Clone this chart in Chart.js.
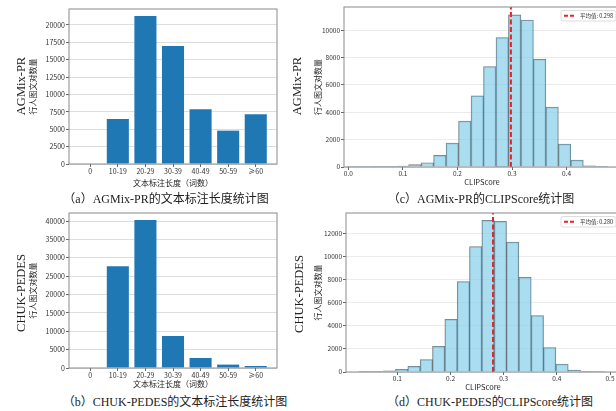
<!DOCTYPE html>
<html lang="zh">
<head>
<meta charset="UTF-8" />
<title>文本标注长度与CLIPScore统计</title>
<script src="https://cdn.jsdelivr.net/npm/chart.js"></script>
<style>
  html, body { margin: 0; padding: 0; background: #fff; overflow: hidden; }
  body { width: 616px; height: 411px; position: relative; color: #222;
         font-family: "Liberation Serif", "Noto Sans CJK SC", serif; }
  .panel { position: absolute; }
  .lbl { position: absolute; white-space: nowrap; line-height: 1; transform: translate(-50%, -50%); }
  .side { font-size: 12.5px; transform: translate(-50%, -50%) rotate(-90deg); }
  .cap { font-size: 12px; }
</style>
</head>
<body>
  <div class="panel" style="left:0;top:0;width:290px;height:188px"><canvas id="chart-a"></canvas></div>
  <div class="panel" style="left:0;top:200px;width:290px;height:190px"><canvas id="chart-b"></canvas></div>
  <div class="panel" style="left:300px;top:0;width:324px;height:188px"><canvas id="chart-c"></canvas></div>
  <div class="panel" style="left:300px;top:200px;width:324px;height:192px"><canvas id="chart-d"></canvas></div>

  <div class="lbl side" style="left:21px;top:86px">AGMix-PR</div>
  <div class="lbl side" style="left:297px;top:86px">AGMix-PR</div>
  <div class="lbl side" style="left:21px;top:293px">CHUK-PEDES</div>
  <div class="lbl side" style="left:299px;top:294px">CHUK-PEDES</div>

  <div class="lbl cap" style="left:166px;top:199px">（a）AGMix-PR的文本标注长度统计图</div>
  <div class="lbl cap" style="left:481px;top:199px">（c）AGMix-PR的CLIPScore统计图</div>
  <div class="lbl cap" style="left:175px;top:402px">（b）CHUK-PEDES的文本标注长度统计图</div>
  <div class="lbl cap" style="left:490px;top:402px">（d）CHUK-PEDES的CLIPScore统计图</div>

<script>
  // text length buckets (words)
  const lengthCats = ["0", "10-19", "20-29", "30-39", "40-49", "50-59", "≥60"];
  const agmixLengths = [0, 6470, 21290, 16980, 7860, 4800, 7140];
  const chukLengths = [0, 27670, 40270, 8710, 2720, 925, 540];
  const agmixLenTicks = [0, 2500, 5000, 7500, 10000, 12500, 15000, 17500, 20000];
  const chukLenTicks = [0, 5000, 10000, 15000, 20000, 25000, 30000, 35000, 40000];

  // CLIPScore histograms (bin centres + counts)
  const agmixBinCenters = [0.0075, 0.0304, 0.0533, 0.0761, 0.0990, 0.1219, 0.1448, 0.1677, 0.1905, 0.2134, 0.2363,
                           0.2592, 0.2821, 0.3049, 0.3278, 0.3507, 0.3736, 0.3965, 0.4193, 0.4422, 0.4651];
  const agmixClipCounts = [3, 5, 10, 20, 60, 170, 314, 850, 1750, 3360, 5200,
                           7340, 9460, 11120, 10750, 7880, 4380, 1680, 510, 80, 25];
  const agmixClipMean = 0.298;
  const agmixClipXTicks = [0.0, 0.1, 0.2, 0.3, 0.4];
  const agmixClipYTicks = [0, 2000, 4000, 6000, 8000, 10000];

  const chukBinCenters = [0.0386, 0.0618, 0.0850, 0.1082, 0.1314, 0.1546, 0.1778, 0.2010, 0.2242, 0.2474,
                          0.2706, 0.2938, 0.3170, 0.3402, 0.3634, 0.3866, 0.4098, 0.4330, 0.4562, 0.4794];
  const chukClipCounts = [8, 20, 100, 230, 490, 1070, 2220, 4560, 7820, 10860,
                          13120, 13040, 11250, 8190, 4880, 2110, 690, 175, 20, 5];
  const chukClipMean = 0.280;
  const chukClipXTicks = [0.1, 0.2, 0.3, 0.4, 0.5];
  const chukClipYTicks = [0, 2000, 4000, 6000, 8000, 10000, 12000];

  Chart.defaults.font.family = "'Noto Sans CJK SC', 'DejaVu Sans', sans-serif";
  Chart.defaults.color = '#333';
  Chart.defaults.animation = false;

  // box round the plot area, like matplotlib spines
  const framePlugin = {
    id: 'frame',
    afterDraw(chart) {
      const a = chart.chartArea, ctx = chart.ctx;
      ctx.save();
      ctx.strokeStyle = '#8a8a8a';
      ctx.lineWidth = 1;
      ctx.strokeRect(a.left, a.top, a.right - a.left, a.bottom - a.top);
      ctx.restore();
    }
  };

  // small legend in the top right corner for the mean line
  const meanLegend = {
    id: 'meanLegend',
    afterDraw(chart) {
      const ds = chart.data.datasets[0];
      const a = chart.chartArea, ctx = chart.ctx;
      ctx.save();
      ctx.font = "5.5px 'Noto Sans CJK SC'";
      const tw = ctx.measureText(ds.label).width;
      const w = tw + 22, h = 10.5;
      const x = a.right - 4 - w, y = a.top + 3.5;
      ctx.fillStyle = 'rgba(255,255,255,0.85)';
      ctx.strokeStyle = '#d4d4d4';
      ctx.lineWidth = 0.8;
      ctx.beginPath(); ctx.roundRect(x, y, w, h, 2); ctx.fill(); ctx.stroke();
      ctx.strokeStyle = ds.borderColor;
      ctx.lineWidth = 2;
      ctx.setLineDash([4, 2]);
      ctx.beginPath(); ctx.moveTo(x + 3, y + h / 2); ctx.lineTo(x + 15, y + h / 2); ctx.stroke();
      ctx.setLineDash([]);
      ctx.fillStyle = '#333';
      ctx.textBaseline = 'middle';
      ctx.fillText(ds.label, x + 19, y + h / 2);
      ctx.restore();
    }
  };

  function fixSize(size) {
    return function (scale) {
      if (scale.isHorizontal()) scale.height = size; else scale.width = size;
      scale.paddingTop = scale.paddingBottom = scale.paddingLeft = scale.paddingRight = 0;
    };
  }

  function useTicks(values) {
    return function (scale) { scale.ticks = values.map(v => ({ value: v })); };
  }

  const titleFont = { size: 8 };

  function lengthChart(id, values, yTicks, yMax, pad, yWidth, xHeight) {
    new Chart(document.getElementById(id), {
      type: 'bar',
      data: {
        datasets: [{
          data: values.map((v, i) => ({ x: i, y: v })),
          backgroundColor: '#1f77b4',
          barPercentage: 0.8,
          categoryPercentage: 1
        }]
      },
      options: {
        responsive: true,
        maintainAspectRatio: false,
        layout: { padding: pad },
        plugins: { legend: { display: false }, tooltip: { enabled: false } },
        scales: {
          x: {
            type: 'linear', min: -0.77, max: 6.77, offset: false,
            afterBuildTicks: useTicks(lengthCats.map((c, i) => i)),
            afterFit: fixSize(xHeight),
            ticks: { callback: v => lengthCats[v], font: { size: 7 }, padding: 0, maxRotation: 0, autoSkip: false },
            grid: { offset: false, drawOnChartArea: false, tickLength: 3, tickColor: '#666' },
            border: { display: false },
            title: { display: true, text: '文本标注长度（词数）', font: titleFont, padding: 0, color: '#222' }
          },
          y: {
            min: 0, max: yMax,
            afterBuildTicks: useTicks(yTicks),
            afterFit: fixSize(yWidth),
            ticks: { callback: v => String(v), font: { size: 7 }, padding: 1, autoSkip: false },
            grid: { color: 'rgba(0,0,0,0.13)', borderDash: [1.5, 2], tickLength: 3, tickColor: '#666', tickBorderDash: [] },
            border: { display: false },
            title: { display: true, text: '行人图文对数量', font: titleFont, padding: 0, color: '#222' }
          }
        }
      },
      plugins: [framePlugin]
    });
  }

  function clipChart(id, centers, counts, mean, xTicks, yTicks, xMin, xMax, yMax, pad, yWidth, xHeight) {
    new Chart(document.getElementById(id), {
      type: 'bar',
      data: {
        datasets: [
          {
            type: 'line',
            label: '平均值: ' + mean.toFixed(3),
            data: [{ x: mean, y: 0 }, { x: mean, y: yMax }],
            borderColor: '#e3262b', borderWidth: 2, borderDash: [5, 2.5],
            pointRadius: 0, fill: false
          },
          {
            type: 'bar',
            data: centers.map((x, i) => ({ x: x, y: counts[i] })),
            backgroundColor: 'rgba(135,206,235,0.7)',
            borderColor: 'rgba(40,60,70,0.65)',
            borderWidth: 0.8,
            barPercentage: 1,
            categoryPercentage: 1
          }
        ]
      },
      options: {
        responsive: true,
        maintainAspectRatio: false,
        layout: { padding: pad },
        plugins: { legend: { display: false }, tooltip: { enabled: false } },
        scales: {
          x: {
            type: 'linear', min: xMin, max: xMax, offset: false,
            afterBuildTicks: useTicks(xTicks),
            afterFit: fixSize(xHeight),
            ticks: { callback: v => v.toFixed(1), font: { size: 6.5 }, padding: 0, maxRotation: 0, autoSkip: false },
            grid: { offset: false, drawOnChartArea: false, tickLength: 3, tickColor: '#666' },
            border: { display: false },
            title: { display: true, text: 'CLIPScore', font: { size: 7.5 }, padding: 0, color: '#222' }
          },
          y: {
            min: 0, max: yMax,
            afterBuildTicks: useTicks(yTicks),
            afterFit: fixSize(yWidth),
            ticks: { callback: v => String(v), font: { size: 6.5 }, padding: 1, autoSkip: false },
            grid: { color: 'rgba(0,0,0,0.08)', tickLength: 3, tickColor: '#666' },
            border: { display: false },
            title: { display: true, text: '行人图文对数量', font: titleFont, padding: 0, color: '#222' }
          }
        }
      },
      plugins: [framePlugin, meanLegend]
    });
  }

  lengthChart('chart-a', agmixLengths, agmixLenTicks, 22300, { left: 28, top: 9, right: 13, bottom: 0 }, 41, 24);
  lengthChart('chart-b', chukLengths, chukLenTicks, 42180, { left: 28, top: 13, right: 13, bottom: 1 }, 41, 21);
  clipChart('chart-c', agmixBinCenters, agmixClipCounts, agmixClipMean, agmixClipXTicks, agmixClipYTicks,
            -0.008, 0.498, 11700, { left: 13, top: 7, right: 4, bottom: 1 }, 31, 20);
  clipChart('chart-d', chukBinCenters, chukClipCounts, chukClipMean, chukClipXTicks, chukClipYTicks,
            0.0035, 0.5188, 13760, { left: 13, top: 13, right: 4, bottom: 0 }, 33, 20);
</script>
</body>
</html>
